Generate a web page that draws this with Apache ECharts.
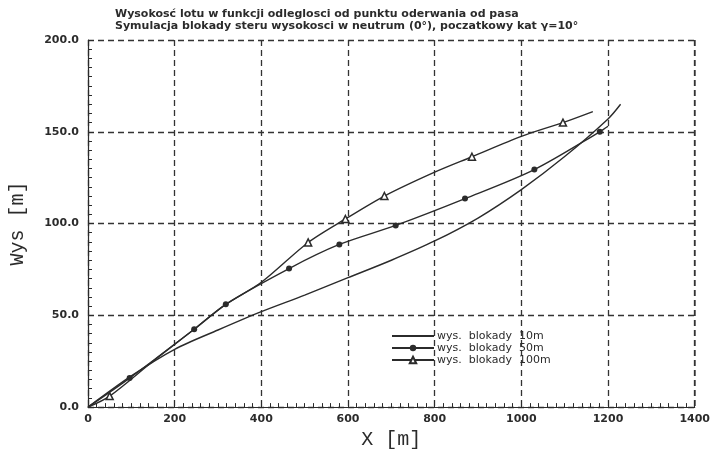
<!DOCTYPE html>
<html><head><meta charset="utf-8">
<script src="https://cdn.jsdelivr.net/npm/echarts@6/dist/echarts.min.js"></script>
<style>html,body{margin:0;padding:0;background:#fff}#c{width:713px;height:455px}</style>
</head><body><div id="c"></div>
<script>
const titleLines = ['Wysokosć lotu w funkcji odleglosci od punktu oderwania od pasa',
  'Symulacja blokady steru wysokosci w neutrum (0°), poczatkowy kat γ=10°'];
const seriesNames = ['wys.  blokady  10m', 'wys.  blokady  50m', 'wys.  blokady  100m'];
const xTicks = [0, 200, 400, 600, 800, 1000, 1200, 1400];
const yTicks = [0, 50, 100, 150, 200];

// 10m: plain line
const x10 = [0, 100, 200, 300, 400, 500, 600, 700, 800, 900, 1000, 1100, 1200, 1229];
const y10 = [0, 17, 31.5, 42, 52, 61, 70.5, 80, 90.5, 103, 118.5, 136.5, 157, 165];
// 50m: circles
const x50 = [0, 96, 245, 318, 464, 580, 710, 870, 1030, 1181, 1200];
const y50 = [0, 15.8, 42.4, 56, 75.5, 88.6, 99, 113.6, 129.4, 150, 153];
const m50 = [0, 1, 1, 1, 1, 1, 1, 1, 1, 1, 0];
// 100m: triangles
const x100 = [0, 50, 150, 245, 318, 400, 508, 594, 684, 800, 886, 1000, 1096, 1165];
const y100 = [0, 6, 25, 42.4, 56, 68, 89.7, 102.5, 115, 128, 136.4, 147.5, 155, 161];
const m100 = [0, 1, 0, 0, 0, 0, 1, 1, 1, 0, 1, 0, 1, 0];

function pts(xs, ys, ms) {
  return xs.map((x, i) => (ms && ms[i]) ? [x, ys[i]] : {value: [x, ys[i]], symbol: 'none'});
}

const ink = '#2b2b2b';
const chart = echarts.init(document.getElementById('c'), null, {renderer: 'canvas'});
chart.setOption({
  animation: false,
  title: {
    text: titleLines.join('\n'), left: 110, top: 3,
    textStyle: {fontFamily: 'DejaVu Sans', fontSize: 11, fontWeight: 'bold', color: ink, lineHeight: 12}
  },
  grid: {left: 83, right: 18, top: 40, bottom: 47},
  legend: {
    left: 386, top: 325, orient: 'vertical', itemWidth: 42, itemHeight: 8, itemGap: 0,
    textStyle: {fontFamily: 'DejaVu Sans', fontSize: 11, color: ink, padding: [0, 0, 0, -2], lineHeight: 12},
    data: [
      {name: seriesNames[0], itemStyle: {opacity: 0}},
      {name: seriesNames[1]},
      {name: seriesNames[2]}
    ]
  },
  xAxis: {
    type: 'value', min: 0, max: 1400, interval: 200,
    name: 'X [m]', nameLocation: 'middle', nameGap: 22,
    nameTextStyle: {fontFamily: 'Liberation Mono', fontSize: 20, color: ink},
    axisLine: {onZero: false, lineStyle: {color: ink, width: 1.2}},
    axisTick: {inside: true, length: 6, lineStyle: {color: ink}},
    minorTick: {show: true, splitNumber: 10, length: 4, lineStyle: {color: ink}},
    axisLabel: {fontFamily: 'DejaVu Sans', fontSize: 11, fontWeight: 'bold', color: ink, margin: 7,
      formatter: v => xTicks.includes(v) ? String(v) : ''},
    splitLine: {show: true, lineStyle: {type: [6, 4], color: '#333', width: 1.3}}
  },
  yAxis: {
    type: 'value', min: 0, max: 200, interval: 50,
    name: 'Wys [m]', nameLocation: 'middle', nameGap: 60, nameRotate: 90,
    nameTextStyle: {fontFamily: 'Liberation Mono', fontSize: 20, color: ink},
    axisLine: {show: true, onZero: false, lineStyle: {color: ink, width: 1.2}},
    axisTick: {show: true, inside: true, length: 6, lineStyle: {color: ink}},
    minorTick: {show: true, splitNumber: 10, length: 4, lineStyle: {color: ink}},
    axisLabel: {fontFamily: 'DejaVu Sans', fontSize: 11, fontWeight: 'bold', color: ink, margin: 9,
      formatter: v => yTicks.includes(v) ? v.toFixed(1) : ''},
    splitLine: {show: true, lineStyle: {type: [6, 4], color: '#333', width: 1.3}}
  },
  series: [
    {name: seriesNames[0], type: 'line', data: pts(x10, y10, null), smooth: 0.3, symbol: 'none',
      lineStyle: {color: ink, width: 1.4}, itemStyle: {color: ink}},
    {name: seriesNames[1], type: 'line', data: pts(x50, y50, m50), smooth: 0.3, symbol: 'circle', symbolSize: 6,
      showAllSymbol: true,
      lineStyle: {color: ink, width: 1.4}, itemStyle: {color: ink}},
    {name: seriesNames[2], type: 'line', data: pts(x100, y100, m100), smooth: 0.3, symbol: 'triangle', symbolSize: 7,
      showAllSymbol: true,
      lineStyle: {color: ink, width: 1.4}, itemStyle: {color: '#fff', borderColor: ink, borderWidth: 1.5}}
  ],
  graphic: [
    {type: 'line', shape: {x1: 695, y1: 40, x2: 695, y2: 408}, style: {stroke: '#333', lineWidth: 1.3, lineDash: [6, 4]}, silent: true}
  ]
});
</script></body></html>
